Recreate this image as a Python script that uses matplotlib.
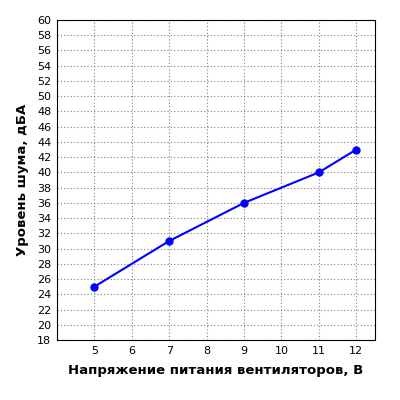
import matplotlib
matplotlib.use("Agg")
import matplotlib.pyplot as plt

voltage = [5, 7, 9, 11, 12]
noise = [25, 31, 36, 40, 43]
x_ticks = [5, 6, 7, 8, 9, 10, 11, 12]
y_ticks = list(range(18, 61, 2))

plt.rcParams["font.family"] = "DejaVu Sans"

fig = plt.figure(figsize=(4, 4), dpi=100)
ax = fig.add_axes([57 / 400, 60 / 400, 318 / 400, 320 / 400])

ax.plot(voltage, noise, color="#0000ff", linewidth=1.5, marker="o", markersize=5)

ax.set_xlim(4, 12.5)
ax.set_ylim(18, 60)
ax.set_xticks(x_ticks)
ax.set_yticks(y_ticks)
ax.tick_params(labelsize=8, length=0, pad=4)
ax.grid(True, color="#808080", linestyle=(0, (1, 2)), linewidth=0.8)
for s in ax.spines.values():
    s.set_color("black")

ax.set_xlabel("Напряжение питания вентиляторов, В", fontsize=9.5, fontweight="bold", labelpad=6)
ax.set_ylabel("Уровень шума, дБА", fontsize=9.5, fontweight="bold", labelpad=6)

fig.savefig("out.png", dpi=100, facecolor="white")
